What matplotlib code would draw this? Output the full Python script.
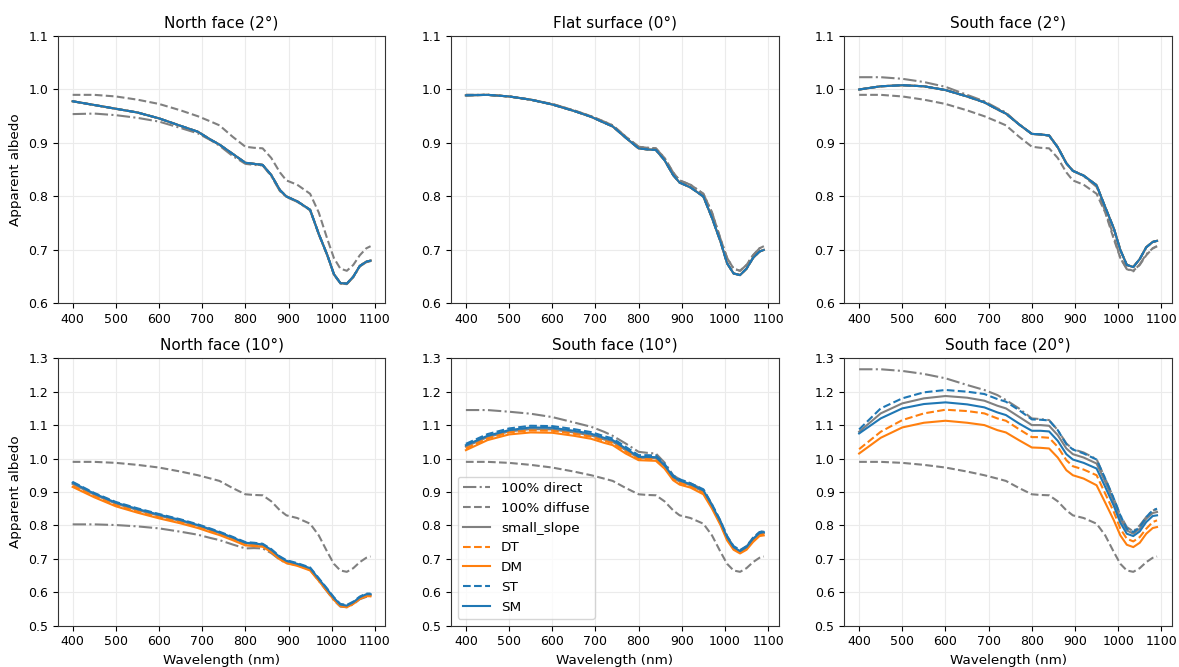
import matplotlib
matplotlib.use("Agg")
import matplotlib.pyplot as plt

# wavelength knots (nm)
wl = [400, 450, 500, 550, 600, 650, 690, 720, 740, 770, 800, 820, 840, 860,
      880, 895, 920, 950, 970, 990, 1005, 1020, 1035, 1050, 1065, 1080, 1090]

# 100% diffuse is the same in every panel
diffuse = [0.990, 0.990, 0.987, 0.981, 0.973, 0.961, 0.950, 0.940, 0.933, 0.912,
           0.893, 0.891, 0.890, 0.872, 0.845, 0.830, 0.822, 0.805, 0.770, 0.720,
           0.685, 0.665, 0.661, 0.672, 0.690, 0.703, 0.707]

# North face (2 deg)
n2_direct = [0.954, 0.955, 0.952, 0.947, 0.940, 0.928, 0.918, 0.905, 0.895, 0.876,
             0.861, 0.859, 0.858, 0.838, 0.810, 0.799, 0.790, 0.774, 0.729, 0.689,
             0.654, 0.637, 0.636, 0.649, 0.669, 0.677, 0.679]
n2_model = [0.978, 0.971, 0.964, 0.957, 0.946, 0.932, 0.921, 0.906, 0.897, 0.880,
            0.863, 0.861, 0.859, 0.840, 0.812, 0.800, 0.791, 0.775, 0.730, 0.690,
            0.655, 0.638, 0.637, 0.650, 0.670, 0.678, 0.680]

# Flat surface (0 deg)
f0_direct = diffuse
f0_model = [0.989, 0.990, 0.987, 0.981, 0.972, 0.960, 0.949, 0.938, 0.931, 0.910,
            0.890, 0.888, 0.887, 0.868, 0.840, 0.826, 0.817, 0.800, 0.760, 0.715,
            0.675, 0.656, 0.653, 0.665, 0.685, 0.697, 0.700]

# South face (2 deg)
s2_direct = [1.023, 1.023, 1.020, 1.014, 1.005, 0.990, 0.978, 0.965, 0.957, 0.935,
             0.917, 0.916, 0.914, 0.893, 0.862, 0.848, 0.838, 0.818, 0.772, 0.725,
             0.685, 0.664, 0.660, 0.673, 0.692, 0.703, 0.707]
s2_model = [1.000, 1.006, 1.008, 1.006, 0.999, 0.987, 0.976, 0.963, 0.955, 0.935,
            0.917, 0.916, 0.914, 0.892, 0.862, 0.848, 0.839, 0.821, 0.780, 0.740,
            0.700, 0.672, 0.668, 0.683, 0.705, 0.715, 0.717]

# North face (10 deg)
n10_direct = [0.803, 0.803, 0.801, 0.797, 0.791, 0.781, 0.772, 0.762, 0.756, 0.743,
              0.731, 0.732, 0.731, 0.717, 0.697, 0.687, 0.681, 0.667, 0.634, 0.601,
              0.576, 0.557, 0.555, 0.564, 0.579, 0.586, 0.587]
n10_small = [0.924, 0.892, 0.865, 0.846, 0.829, 0.813, 0.799, 0.786, 0.777, 0.762,
             0.746, 0.744, 0.741, 0.725, 0.703, 0.692, 0.683, 0.670, 0.638, 0.606,
             0.581, 0.561, 0.558, 0.568, 0.583, 0.592, 0.592]
n10_DT = [0.918, 0.887, 0.860, 0.841, 0.824, 0.809, 0.795, 0.782, 0.774, 0.759,
          0.743, 0.741, 0.739, 0.723, 0.701, 0.690, 0.681, 0.668, 0.636, 0.604,
          0.579, 0.560, 0.557, 0.567, 0.582, 0.590, 0.590]
n10_DM = [0.915, 0.884, 0.857, 0.838, 0.821, 0.806, 0.792, 0.779, 0.771, 0.756,
          0.740, 0.738, 0.736, 0.720, 0.698, 0.687, 0.679, 0.665, 0.634, 0.602,
          0.577, 0.558, 0.555, 0.565, 0.580, 0.588, 0.588]
n10_ST = [0.930, 0.897, 0.870, 0.851, 0.834, 0.818, 0.803, 0.790, 0.781, 0.766,
          0.750, 0.748, 0.745, 0.729, 0.707, 0.696, 0.687, 0.674, 0.642, 0.610,
          0.585, 0.565, 0.562, 0.572, 0.587, 0.596, 0.596]
n10_SM = [0.928, 0.895, 0.868, 0.849, 0.832, 0.816, 0.801, 0.788, 0.779, 0.764,
          0.748, 0.746, 0.743, 0.727, 0.705, 0.694, 0.685, 0.672, 0.640, 0.608,
          0.583, 0.563, 0.560, 0.570, 0.585, 0.594, 0.594]

# South face (10 deg)
s10_direct = [1.145, 1.145, 1.140, 1.134, 1.124, 1.108, 1.095, 1.080, 1.068, 1.045,
              1.020, 1.017, 1.015, 0.988, 0.950, 0.938, 0.926, 0.907, 0.862, 0.812,
              0.767, 0.737, 0.725, 0.737, 0.762, 0.779, 0.782]
s10_small = [1.036, 1.064, 1.081, 1.088, 1.087, 1.078, 1.069, 1.057, 1.050, 1.025,
             1.002, 1.002, 1.001, 0.977, 0.942, 0.931, 0.920, 0.901, 0.857, 0.807,
             0.762, 0.732, 0.721, 0.733, 0.757, 0.774, 0.777]
s10_DT = [1.030, 1.060, 1.078, 1.084, 1.083, 1.074, 1.065, 1.053, 1.046, 1.021,
          0.999, 0.998, 0.997, 0.974, 0.939, 0.927, 0.917, 0.897, 0.854, 0.804,
          0.759, 0.730, 0.719, 0.730, 0.754, 0.771, 0.774]
s10_DM = [1.025, 1.055, 1.072, 1.078, 1.077, 1.068, 1.059, 1.047, 1.040, 1.015,
          0.995, 0.994, 0.993, 0.970, 0.935, 0.922, 0.913, 0.893, 0.850, 0.800,
          0.755, 0.727, 0.716, 0.727, 0.750, 0.768, 0.770]
s10_ST = [1.044, 1.073, 1.090, 1.098, 1.097, 1.088, 1.079, 1.067, 1.060, 1.035,
          1.010, 1.010, 1.009, 0.984, 0.949, 0.938, 0.926, 0.908, 0.863, 0.813,
          0.768, 0.738, 0.726, 0.738, 0.763, 0.780, 0.783]
s10_SM = [1.040, 1.068, 1.085, 1.093, 1.092, 1.083, 1.074, 1.062, 1.055, 1.030,
          1.005, 1.005, 1.004, 0.980, 0.945, 0.935, 0.923, 0.905, 0.860, 0.810,
          0.765, 0.735, 0.723, 0.735, 0.760, 0.777, 0.780]

# South face (20 deg)
s20_direct = [1.267, 1.267, 1.262, 1.253, 1.240, 1.220, 1.205, 1.190, 1.175, 1.150,
              1.120, 1.118, 1.115, 1.085, 1.045, 1.028, 1.018, 0.998, 0.940, 0.880,
              0.830, 0.795, 0.782, 0.800, 0.825, 0.845, 0.848]
s20_small = [1.080, 1.135, 1.165, 1.180, 1.187, 1.182, 1.173, 1.158, 1.150, 1.125,
             1.100, 1.100, 1.098, 1.070, 1.030, 1.013, 1.003, 0.985, 0.930, 0.870,
             0.820, 0.785, 0.775, 0.790, 0.820, 0.837, 0.840]
s20_DT = [1.028, 1.080, 1.115, 1.135, 1.146, 1.142, 1.135, 1.120, 1.113, 1.088,
          1.064, 1.064, 1.062, 1.035, 0.995, 0.977, 0.967, 0.950, 0.895, 0.840,
          0.790, 0.760, 0.752, 0.765, 0.790, 0.810, 0.815]
s20_DM = [1.015, 1.062, 1.093, 1.107, 1.113, 1.107, 1.100, 1.085, 1.078, 1.055,
          1.033, 1.032, 1.030, 1.003, 0.965, 0.950, 0.940, 0.920, 0.868, 0.815,
          0.770, 0.742, 0.735, 0.748, 0.775, 0.792, 0.795]
s20_ST = [1.087, 1.150, 1.180, 1.198, 1.205, 1.200, 1.193, 1.178, 1.170, 1.145,
          1.117, 1.116, 1.114, 1.085, 1.043, 1.027, 1.015, 0.997, 0.940, 0.880,
          0.830, 0.790, 0.780, 0.795, 0.825, 0.845, 0.850]
s20_SM = [1.075, 1.120, 1.150, 1.163, 1.168, 1.162, 1.153, 1.138, 1.130, 1.105,
          1.083, 1.083, 1.081, 1.053, 1.013, 0.997, 0.987, 0.970, 0.915, 0.858,
          0.808, 0.775, 0.768, 0.782, 0.810, 0.828, 0.830]

titles = ["North face (2°)", "Flat surface (0°)", "South face (2°)",
          "North face (10°)", "South face (10°)", "South face (20°)"]

panels = [
    (n2_direct, n2_model, n2_model, n2_model, n2_model, n2_model),
    (f0_direct, f0_model, f0_model, f0_model, f0_model, f0_model),
    (s2_direct, s2_model, s2_model, s2_model, s2_model, s2_model),
    (n10_direct, n10_small, n10_DT, n10_DM, n10_ST, n10_SM),
    (s10_direct, s10_small, s10_DT, s10_DM, s10_ST, s10_SM),
    (s20_direct, s20_small, s20_DT, s20_DM, s20_ST, s20_SM),
]

plt.rcParams['font.family'] = 'DejaVu Sans'
plt.rcParams['font.size'] = 9
plt.rcParams['axes.edgecolor'] = '#333333'

fig, axes = plt.subplots(2, 3, figsize=(11.79, 6.67), dpi=100)
fig.subplots_adjust(left=0.049, right=0.994, top=0.946, bottom=0.062,
                    wspace=0.2, hspace=0.205)

grey = '#808080'
orange = '#ff7f0e'
blue = '#1f77b4'

for i, ax in enumerate(axes.flat):
    direct, small, dt, dm, st, sm = panels[i]
    ax.plot(wl, direct, color=grey, ls='-.', lw=1.5, label='100% direct')
    ax.plot(wl, diffuse, color=grey, ls='--', lw=1.5, label='100% diffuse')
    ax.plot(wl, small, color=grey, ls='-', lw=1.5, label='small_slope')
    ax.plot(wl, dt, color=orange, ls='--', lw=1.5, label='DT')
    ax.plot(wl, dm, color=orange, ls='-', lw=1.5, label='DM')
    ax.plot(wl, st, color=blue, ls='--', lw=1.5, label='ST')
    ax.plot(wl, sm, color=blue, ls='-', lw=1.5, label='SM')
    ax.set_title(titles[i], fontsize=11)
    ax.grid(True, color='#ebebeb', lw=0.8)
    ax.set_axisbelow(True)
    ax.set_xticks([400, 500, 600, 700, 800, 900, 1000, 1100])
    if i < 3:
        ax.set_ylim(0.6, 1.1)
    else:
        ax.set_ylim(0.5, 1.3)
        ax.set_xlabel('Wavelength (nm)', fontsize=9.7)
    if i % 3 == 0:
        ax.set_ylabel('Apparent albedo', fontsize=9.7)

axes[1, 1].legend(loc='lower left', fontsize=9.7)

fig.savefig('out.png', dpi=100)
